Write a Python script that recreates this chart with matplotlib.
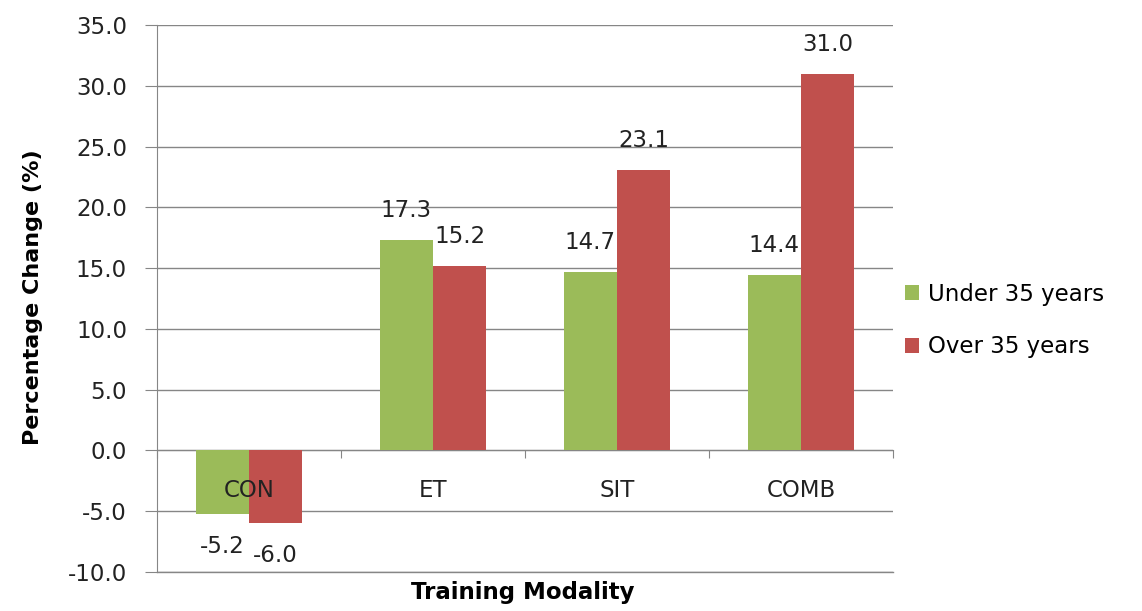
import matplotlib.pyplot as plt
import numpy as np

categories = ['CON', 'ET', 'SIT', 'COMB']
under_35 = [-5.2, 17.3, 14.7, 14.4]
over_35 = [-6.0, 15.2, 23.1, 31.0]
series_names = ['Under 35 years', 'Over 35 years']

plt.rcParams['font.family'] = ['DejaVu Sans']

green = '#9BBB59'
red = '#C0504D'
grey = '#868686'
txt = '#222222'
fs = 16.5

fig = plt.figure(figsize=(11.42, 6.11), dpi=100)
ax = fig.add_axes([0.1375, 0.0638, 0.6445, 0.8952])

x = np.arange(len(categories))
w = 0.29
b1 = ax.bar(x - w / 2, under_35, w, color=green, label=series_names[0], zorder=3)
b2 = ax.bar(x + w / 2, over_35, w, color=red, label=series_names[1], zorder=3)

# value labels, outside end like excel
for bars, vals in [(b1, under_35), (b2, over_35)]:
    for rect, v in zip(bars, vals):
        cx = rect.get_x() + rect.get_width() / 2
        if v >= 0:
            ax.annotate('%.1f' % v, (cx, v), xytext=(0, 13), textcoords='offset points',
                        ha='center', va='bottom', fontsize=fs, color=txt)
        else:
            ax.annotate('%.1f' % v, (cx, v), xytext=(0, -15), textcoords='offset points',
                        ha='center', va='top', fontsize=fs, color=txt)

# category names sit just under the zero line
for xi, name in zip(x, categories):
    ax.annotate(name, (xi, 0), xytext=(0, -29), textcoords='offset points',
                ha='center', va='center', fontsize=fs, color=txt, zorder=4)

ax.set_xlim(-0.5, len(categories) - 0.5)
ax.set_ylim(-10, 35)
ax.set_yticks(np.arange(-10, 35.1, 5))
ax.set_yticklabels(['%.1f' % t for t in np.arange(-10, 35.1, 5)], fontsize=fs, color=txt)

ax.set_xticks(np.arange(-0.5, len(categories), 1.0))
ax.set_xticklabels([])

ax.spines['top'].set_visible(False)
ax.spines['right'].set_visible(False)
ax.spines['bottom'].set_position(('data', 0))
ax.spines['bottom'].set_color(grey)
ax.spines['left'].set_color(grey)
ax.spines['bottom'].set_zorder(2)
ax.tick_params(axis='x', direction='out', length=6, color=grey)
ax.tick_params(axis='y', direction='out', length=8.6, color=grey, pad=13)

ax.yaxis.grid(True, color=grey, linewidth=1, zorder=0)
ax.axhline(-10, color=grey, linewidth=1, clip_on=False, zorder=1)
ax.set_axisbelow(True)

ax.set_ylabel('Percentage Change (%)', fontsize=16, fontweight='bold', color='black')
ax.yaxis.set_label_coords(-0.155, 0.503)
fig.text(0.458, 0.031, 'Training Modality', fontsize=16.5, fontweight='bold', ha='center', va='center')

ax.legend(loc='center left', bbox_to_anchor=(0.995, 0.46), frameon=False, fontsize=fs,
          handlelength=0.6, handleheight=0.6, handletextpad=0.4, labelspacing=1.3,
          borderaxespad=0.3)

plt.savefig('out.png', dpi=100)
